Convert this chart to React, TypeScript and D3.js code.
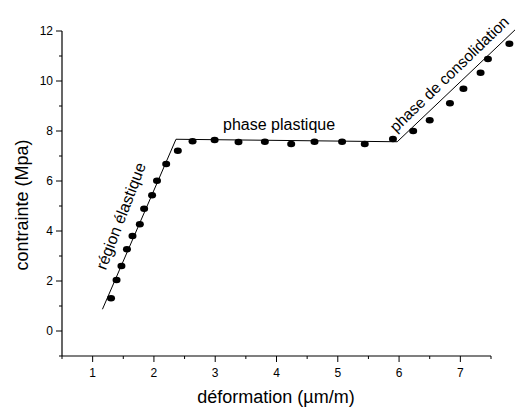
import React, { useEffect, useRef } from 'react';
import * as d3 from 'd3';

// measured points (deformation in µm/m, contrainte in MPa)
const strain = [
  1.3, 1.39, 1.47, 1.56, 1.65, 1.77, 1.84, 1.97, 2.05, 2.2, 2.39, 2.63, 2.99,
  3.38, 3.81, 4.24, 4.62, 5.07, 5.44, 5.9, 6.23, 6.5, 6.83, 7.05, 7.33, 7.45,
  7.8, 7.97,
];
const stress = [
  1.31, 2.04, 2.6, 3.27, 3.8, 4.27, 4.89, 5.43, 6.01, 6.68, 7.21, 7.59, 7.64,
  7.56, 7.57, 7.48, 7.57, 7.57, 7.48, 7.68, 8.0, 8.43, 9.11, 9.69, 10.33, 10.88,
  11.49, 12.08,
];

// piecewise fit
const fitX = [1.16, 2.36, 5.97, 7.95];
const fitY = [0.87, 7.67, 7.57, 12.18];

const xTicks = [1, 2, 3, 4, 5, 6, 7];
const yTicks = [0, 2, 4, 6, 8, 10, 12];

const App = () => {
  const ref = useRef<SVGSVGElement>(null);

  useEffect(() => {
    const svg = d3.select(ref.current);
    svg.selectAll('*').remove();

    const width = 515;
    const height = 410;
    const left = 62;
    const right = 491;
    const top = 31;
    const bottom = 356;

    svg.attr('width', width).attr('height', height);

    const x = d3.scaleLinear().domain([0.5, 7.5]).range([left, right]);
    const y = d3.scaleLinear().domain([-1, 12]).range([bottom, top]);

    const font = 'Arial, "Liberation Sans", Helvetica, sans-serif';

    // axes lines
    svg.append('line')
      .attr('x1', left).attr('x2', left)
      .attr('y1', top).attr('y2', bottom)
      .attr('stroke', '#000').attr('stroke-width', 1.2);
    svg.append('line')
      .attr('x1', left).attr('x2', right)
      .attr('y1', bottom).attr('y2', bottom)
      .attr('stroke', '#000').attr('stroke-width', 1.2);

    // y ticks
    const yMinor = d3.range(-1, 12.5, 1);
    svg.selectAll('.ytick')
      .data(yMinor)
      .enter()
      .append('line')
      .attr('x1', d => (d % 2 === 0 ? left - 6 : left - 3))
      .attr('x2', left)
      .attr('y1', d => y(d)).attr('y2', d => y(d))
      .attr('stroke', '#000');
    svg.selectAll('.ylab')
      .data(yTicks)
      .enter()
      .append('text')
      .attr('x', left - 9)
      .attr('y', d => y(d))
      .attr('dy', '0.36em')
      .attr('text-anchor', 'end')
      .style('font-family', font)
      .style('font-size', '12px')
      .text(d => d);

    // x ticks
    const xMinor = d3.range(0.5, 7.6, 0.5);
    svg.selectAll('.xtick')
      .data(xMinor)
      .enter()
      .append('line')
      .attr('x1', d => x(d)).attr('x2', d => x(d))
      .attr('y1', bottom)
      .attr('y2', d => (Number.isInteger(d) ? bottom + 6 : bottom + 3))
      .attr('stroke', '#000');
    svg.selectAll('.xlab')
      .data(xTicks)
      .enter()
      .append('text')
      .attr('x', d => x(d))
      .attr('y', 377)
      .attr('text-anchor', 'middle')
      .style('font-family', font)
      .style('font-size', '12px')
      .text(d => d);

    // axis titles
    svg.append('text')
      .attr('x', 276).attr('y', 403)
      .attr('text-anchor', 'middle')
      .style('font-family', font)
      .style('font-size', '18px')
      .text('déformation (µm/m)');
    svg.append('text')
      .attr('transform', 'translate(28,205) rotate(-90)')
      .attr('text-anchor', 'middle')
      .style('font-family', font)
      .style('font-size', '18px')
      .text('contrainte (Mpa)');

    // fit line
    const line = d3.line<number>()
      .x(d => x(fitX[d]))
      .y(d => y(fitY[d]));
    svg.append('path')
      .attr('d', line(d3.range(fitX.length)))
      .attr('fill', 'none')
      .attr('stroke', '#000')
      .attr('stroke-width', 1);

    // points
    svg.selectAll('.pt')
      .data(d3.range(strain.length))
      .enter()
      .append('ellipse')
      .attr('cx', i => x(strain[i]))
      .attr('cy', i => y(stress[i]))
      .attr('rx', 4)
      .attr('ry', 3.2)
      .attr('fill', '#000');

    // annotations
    svg.append('text')
      .attr('transform', 'translate(126,218) rotate(-69)')
      .attr('text-anchor', 'middle')
      .style('font-family', font)
      .style('font-size', '16px')
      .text('région élastique');
    svg.append('text')
      .attr('x', 223).attr('y', 130)
      .style('font-family', font)
      .style('font-size', '16px')
      .text('phase plastique');
    svg.append('text')
      .attr('transform', 'translate(453,78) rotate(-44)')
      .attr('text-anchor', 'middle')
      .style('font-family', font)
      .style('font-size', '15.5px')
      .text('phase de consolidation');
  }, []);

  return (
    <svg
      ref={ref}
      style={{ position: 'absolute', left: 0, top: 0, background: '#fff' }}
    ></svg>
  );
};

export default App;
